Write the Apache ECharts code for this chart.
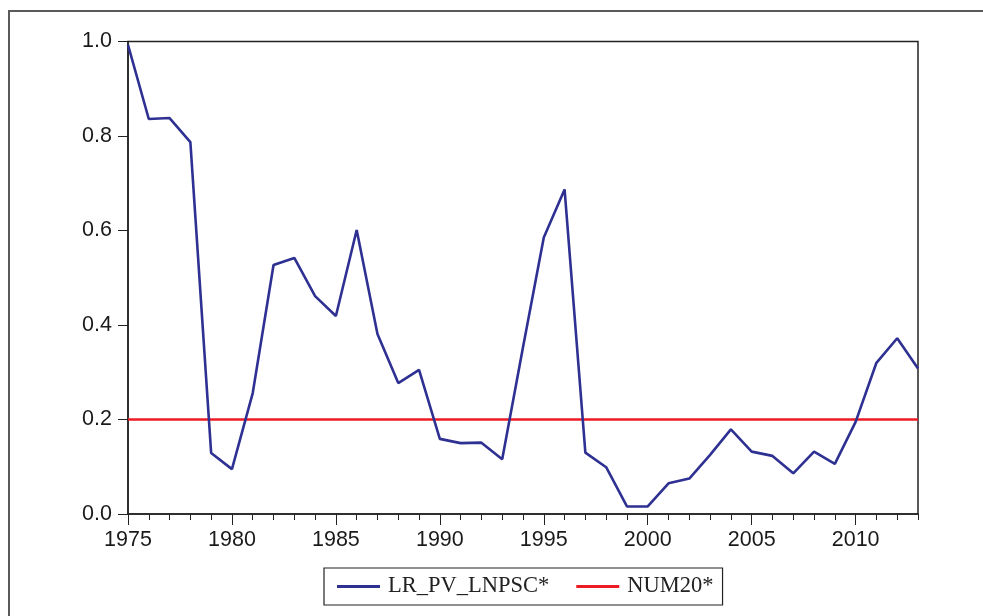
<!DOCTYPE html>
<html>
<head>
<meta charset="utf-8">
<script src="https://cdn.jsdelivr.net/npm/echarts@6/dist/echarts.min.js"></script>
<style>
html,body{margin:0;padding:0;background:#fff;}
#chart{width:983px;height:616px;}
</style>
</head>
<body>
<div id="chart"></div>
<script>
var years = [];
for (var y = 1975; y <= 2013; y++) years.push(String(y));

var lrPvLnpsc = [0.993, 0.836, 0.838, 0.787, 0.129, 0.095, 0.256, 0.527, 0.542, 0.461,
  0.419, 0.601, 0.381, 0.277, 0.305, 0.159, 0.150, 0.151, 0.116, 0.353,
  0.585, 0.687, 0.130, 0.099, 0.016, 0.016, 0.065, 0.075, 0.125, 0.179,
  0.132, 0.123, 0.086, 0.132, 0.106, 0.195, 0.320, 0.372, 0.308];

var num20 = years.map(function () { return 0.2; });

var yTicks = [0, 0.2, 0.4, 0.6, 0.8, 1.0];

var chart = echarts.init(document.getElementById('chart'));
chart.setOption({
  animation: false,
  backgroundColor: '#fff',
  graphic: [{
    type: 'rect',
    shape: { x: 9, y: 11, width: 1100, height: 800 },
    style: { fill: 'none', stroke: '#5a5a5a', lineWidth: 2 },
    silent: true
  }],
  grid: {
    left: 128, right: 65, top: 41.5, bottom: 102,
    show: true, borderColor: '#222', borderWidth: 1.5, backgroundColor: 'transparent'
  },
  legend: {
    left: 324, top: 568,
    padding: [7, 9, 7, 13],
    borderColor: '#222', borderWidth: 1.2,
    itemWidth: 43, itemHeight: 3, itemGap: 27,
    icon: 'rect',
    textStyle: { fontFamily: 'Liberation Serif', fontSize: 22.5, color: '#222', padding: [0, 0, 0, 3] },
    data: ['LR_PV_LNPSC*', 'NUM20*']
  },
  xAxis: [{
    type: 'category',
    data: years,
    boundaryGap: false,
    position: 'bottom',
    axisLine: { lineStyle: { color: '#222', width: 1.5 } },
    axisTick: { interval: 0, length: 6, lineStyle: { color: '#222', width: 1 } },
    axisLabel: { show: false },
    splitLine: { show: false }
  }, {
    type: 'category',
    data: years,
    boundaryGap: false,
    position: 'bottom',
    axisLine: { show: false },
    axisTick: { interval: 4, length: 11, lineStyle: { color: '#222', width: 1 } },
    axisLabel: {
      interval: 4, margin: 15,
      fontFamily: 'Liberation Sans', fontSize: 21.5, color: '#1a1a1a'
    },
    splitLine: { show: false }
  }],
  yAxis: {
    type: 'value',
    min: yTicks[0], max: yTicks[yTicks.length - 1], interval: 0.2,
    axisLine: { show: true, lineStyle: { color: '#222', width: 1.5 } },
    axisTick: { show: true, length: 10, lineStyle: { color: '#222', width: 1 } },
    axisLabel: {
      margin: 16, fontFamily: 'Liberation Sans', fontSize: 21.5, color: '#1a1a1a',
      formatter: function (v) { return v.toFixed(1); }
    },
    splitLine: { show: false }
  },
  series: [{
    name: 'LR_PV_LNPSC*',
    type: 'line',
    xAxisIndex: 0,
    data: lrPvLnpsc,
    showSymbol: false,
    symbol: 'none',
    lineStyle: { color: '#2e3192', width: 2.6 },
    itemStyle: { color: '#2e3192' },
    z: 3
  }, {
    name: 'NUM20*',
    type: 'line',
    xAxisIndex: 0,
    data: num20,
    showSymbol: false,
    symbol: 'none',
    lineStyle: { color: '#ed1c24', width: 2.4 },
    itemStyle: { color: '#ed1c24' },
    z: 2
  }]
});
</script>
</body>
</html>
